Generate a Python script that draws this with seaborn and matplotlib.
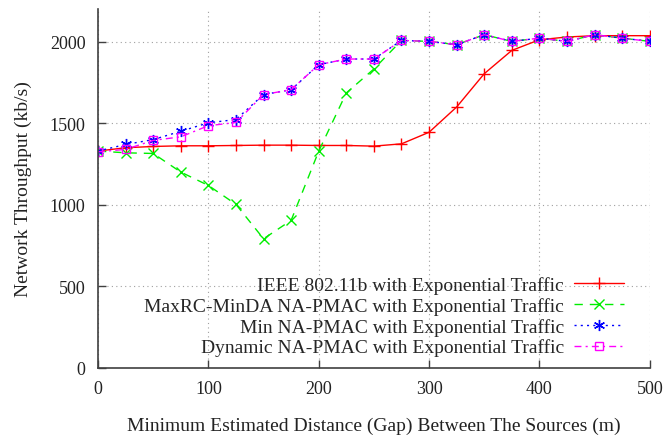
import numpy as np
import pandas as pd
import seaborn as sns
from matplotlib import pyplot as plt

gap = [0, 25, 50, 75, 100, 125, 150, 175, 200, 225, 250,
       275, 300, 325, 350, 375, 400, 425, 450, 475, 500]

ieee = [1330, 1350, 1358, 1362, 1362, 1364, 1366, 1366, 1364, 1364, 1360,
        1374, 1445, 1600, 1804, 1947, 2012, 2029, 2037, 2037, 2037]
maxrc = [1330, 1319, 1315, 1201, 1119, 1003, 792, 905, 1329, 1686, 1833,
         2008, 2002, 1982, 2043, 2002, 2022, 2002, 2043, 2022, 2002]
min_pmac = [1330, 1370, 1400, 1451, 1503, 1523, 1676, 1706, 1859, 1894, 1894,
            2008, 2002, 1982, 2043, 2002, 2022, 2002, 2043, 2022, 2002]
dyn_pmac = [1325, 1340, 1395, 1417, 1485, 1505, 1676, 1706, 1859, 1894, 1894,
            2008, 2002, 1982, 2043, 2002, 2022, 2002, 2043, 2022, 2002]

labels = ["IEEE 802.11b with Exponential Traffic",
          "MaxRC-MinDA NA-PMAC with Exponential Traffic",
          "Min NA-PMAC with Exponential Traffic",
          "Dynamic NA-PMAC with Exponential Traffic"]


def main():
    sns.set_theme(style="ticks")
    plt.rcParams["font.family"] = ["Liberation Serif", "DejaVu Serif"]
    plt.rcParams["font.size"] = 14

    fig = plt.figure(figsize=(6.64, 4.39), dpi=100)
    ax = fig.add_axes([0.1476, 0.1595, 0.831, 0.8175])

    styles = [
        dict(color="#ff0000", ls="-", marker="+", ms=9, fill="full"),
        dict(color="#00ee00", ls=(0, (6, 5)), marker="x", ms=7, fill="full"),
        dict(color="#0000ff", ls=(0, (1.5, 3)), marker=(6, 2, 0), ms=8, fill="full"),
        dict(color="#ff00ff", ls=(0, (5, 3, 1.5, 3)), marker="s", ms=6, fill="none"),
    ]
    for ys, lab, st in zip([ieee, maxrc, min_pmac, dyn_pmac], labels, styles):
        df = pd.DataFrame({"gap": gap, "tp": ys})
        n_before = len(ax.lines)
        sns.lineplot(data=df, x="gap", y="tp", ax=ax, label=lab, linewidth=1,
                     color=st["color"], linestyle=st["ls"])
        line = ax.lines[n_before]
        line.set_marker(st["marker"])
        line.set_markersize(st["ms"])
        line.set_markeredgewidth(1)
        line.set_markeredgecolor(st["color"])
        line.set_markerfacecolor(st["color"] if st["fill"] == "full" else "none")

    ax.set_xlim(0, 500)
    ax.set_ylim(0, 2200)
    ax.set_xticks([0, 100, 200, 300, 400, 500])
    ax.set_yticks([0, 500, 1000, 1500, 2000])
    ax.grid(True, color="#a0a0a0", linestyle=(0, (1, 3)), linewidth=0.8)
    ax.tick_params(direction="in", length=6, width=1, color="#404040",
                   labelsize=13, labelcolor="#222222", pad=9)
    for side in ["top", "right"]:
        ax.spines[side].set_visible(False)
    for side in ["left", "bottom"]:
        ax.spines[side].set_color("#404040")
        ax.spines[side].set_linewidth(1.2)

    ax.set_xlabel("Minimum Estimated Distance (Gap) Between The Sources (m)",
                  fontsize=14, color="#222222", labelpad=14)
    ax.set_ylabel("Network Throughput (kb/s)", fontsize=14, color="#222222", labelpad=13)

    ax.legend(loc="lower right", frameon=False, markerfirst=False, fontsize=14,
              handlelength=2.6, handletextpad=0.5, labelspacing=0.15,
              borderaxespad=0.2, bbox_to_anchor=(0.975, 0.0))

    fig.savefig("out.png", dpi=100)


main()
